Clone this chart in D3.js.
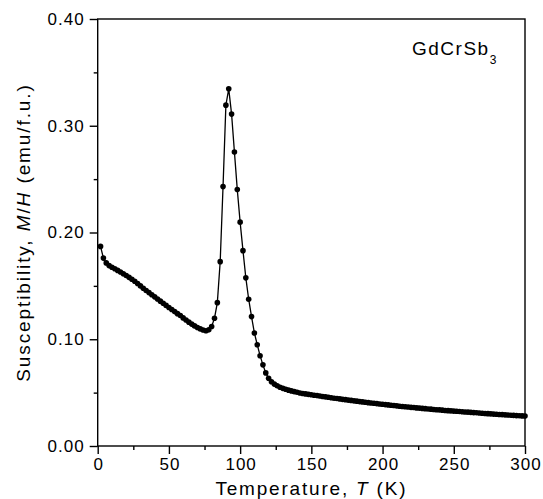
<!DOCTYPE html>
<meta charset="utf-8">
<title>GdCrSb3 susceptibility</title>
<style>
  body { margin: 0; background: #fff; }
  svg { display: block; font-family: "Liberation Sans", Arial, sans-serif; }
  .tick text { font-size: 17px; letter-spacing: 1px; fill: #000; }
</style>
<svg id="chart" width="543" height="499"></svg>
<script src="https://cdn.jsdelivr.net/npm/d3@7"></script>
<script>

// temperature (K), measured every 2 K
var temps = d3.range(2, 301, 2);

// M/H (emu/f.u.), one value per temperature
var chi = [
  0.1870, 0.1760, 0.1715, 0.1690, 0.1675, 0.1660, 0.1645, 0.1630, 0.1613, 0.1597,
  0.1580, 0.1562, 0.1543, 0.1522, 0.1500, 0.1478, 0.1457, 0.1437, 0.1417, 0.1397,
  0.1377, 0.1357, 0.1337, 0.1317, 0.1297, 0.1278, 0.1259, 0.1240, 0.1222, 0.1200,
  0.1180, 0.1160, 0.1142, 0.1125, 0.1110, 0.1097, 0.1087, 0.1080, 0.1088, 0.1120,
  0.1197, 0.1343, 0.1727, 0.2430, 0.3193, 0.3346, 0.3109, 0.2753, 0.2402, 0.2097,
  0.1830, 0.1575, 0.1375, 0.1212, 0.1059, 0.0949, 0.0846, 0.0760, 0.0685, 0.0635,
  0.0602, 0.0580, 0.0564, 0.0551, 0.0540, 0.0531, 0.0523, 0.0516, 0.0509, 0.0503,
  0.0497, 0.0492, 0.0488, 0.0484, 0.0480, 0.0476, 0.0472, 0.0468, 0.0464, 0.0460,
  0.0456, 0.0452, 0.0448, 0.0445, 0.0441, 0.0437, 0.0434, 0.0430, 0.0427, 0.0423,
  0.0420, 0.0416, 0.0413, 0.0410, 0.0406, 0.0403, 0.0400, 0.0397, 0.0394, 0.0391,
  0.0388, 0.0385, 0.0382, 0.0379, 0.0376, 0.0373, 0.0370, 0.0368, 0.0365, 0.0362,
  0.0360, 0.0357, 0.0355, 0.0352, 0.0350, 0.0347, 0.0345, 0.0342, 0.0340, 0.0338,
  0.0336, 0.0333, 0.0331, 0.0329, 0.0327, 0.0325, 0.0323, 0.0321, 0.0319, 0.0317,
  0.0315, 0.0313, 0.0311, 0.0309, 0.0307, 0.0305, 0.0303, 0.0301, 0.0299, 0.0297,
  0.0295, 0.0294, 0.0292, 0.0290, 0.0288, 0.0287, 0.0285, 0.0283, 0.0282, 0.0280
];

var xMajor = [0, 50, 100, 150, 200, 250, 300];
var xMinor = [25, 75, 125, 175, 225, 275];
var yMajor = [0, 0.1, 0.2, 0.3, 0.4];
var yMinor = [0.05, 0.15, 0.25, 0.35];

var data = temps.map(function(t, i) { return {t: t, v: chi[i]}; });

var plotLeft = 97.7, plotRight = 525, plotTop = 19, plotBottom = 446;

var svg = d3.select("#chart");

var x = d3.scaleLinear().domain([0, 300]).range([plotLeft, plotRight]);
var y = d3.scaleLinear().domain([0, 0.4]).range([plotBottom, plotTop]);

// frame
svg.append("rect")
  .attr("x", plotLeft).attr("y", plotTop)
  .attr("width", plotRight - plotLeft).attr("height", plotBottom - plotTop)
  .attr("fill", "none").attr("stroke", "#000").attr("stroke-width", 1.4);

// minor ticks
svg.append("g")
  .attr("transform", "translate(0," + plotBottom + ")")
  .call(d3.axisBottom(x).tickValues(xMinor).tickSize(4).tickFormat(""))
  .call(function(g) { g.select(".domain").remove(); });
svg.append("g")
  .attr("transform", "translate(" + plotLeft + ",0)")
  .call(d3.axisLeft(y).tickValues(yMinor).tickSize(4).tickFormat(""))
  .call(function(g) { g.select(".domain").remove(); });

// major ticks
var xAxis = svg.append("g")
  .attr("transform", "translate(0," + plotBottom + ")")
  .call(d3.axisBottom(x).tickValues(xMajor).tickSize(8).tickPadding(4).tickFormat(d3.format("d")));
xAxis.select(".domain").remove();

var yAxis = svg.append("g")
  .attr("transform", "translate(" + plotLeft + ",0)")
  .call(d3.axisLeft(y).tickValues(yMajor).tickSize(8).tickPadding(5).tickFormat(d3.format(".2f")));
yAxis.select(".domain").remove();

svg.selectAll(".tick line").attr("stroke", "#000").attr("stroke-width", 1.4);
svg.selectAll(".tick text").attr("font-size", null).attr("font-family", null);
xAxis.selectAll(".tick text").attr("dx", "0.5px");

// data
var line = d3.line().x(function(d) { return x(d.t); }).y(function(d) { return y(d.v); });

svg.append("path")
  .datum(data)
  .attr("d", line)
  .attr("fill", "none")
  .attr("stroke", "#000")
  .attr("stroke-width", 1.3);

svg.append("g").selectAll("circle")
  .data(data)
  .enter().append("circle")
  .attr("cx", function(d) { return x(d.t); })
  .attr("cy", function(d) { return y(d.v); })
  .attr("r", 2.8)
  .attr("fill", "#000");

// labels
var xt = svg.append("text")
  .attr("x", (plotLeft + plotRight) / 2).attr("y", 495)
  .attr("text-anchor", "middle")
  .style("font-size", "19px").style("letter-spacing", "1.8px");
xt.append("tspan").text("Temperature, ");
xt.append("tspan").style("font-style", "italic").text("T");
xt.append("tspan").text(" (K)");

var yt = svg.append("text")
  .attr("transform", "translate(29.5," + ((plotTop + plotBottom) / 2) + ") rotate(-90)")
  .attr("text-anchor", "middle")
  .style("font-size", "19px").style("letter-spacing", "1.9px");
yt.append("tspan").text("Susceptibility, ");
yt.append("tspan").style("font-style", "italic").text("M");
yt.append("tspan").text("/");
yt.append("tspan").style("font-style", "italic").text("H");
yt.append("tspan").text(" (emu/f.u.)");

var lab = svg.append("text")
  .attr("x", 412).attr("y", 55)
  .style("font-size", "19px").style("letter-spacing", "1.5px");
lab.append("tspan").text("GdCrSb");
lab.append("tspan").attr("dy", 9).style("font-size", "12px").text("3");

</script>
